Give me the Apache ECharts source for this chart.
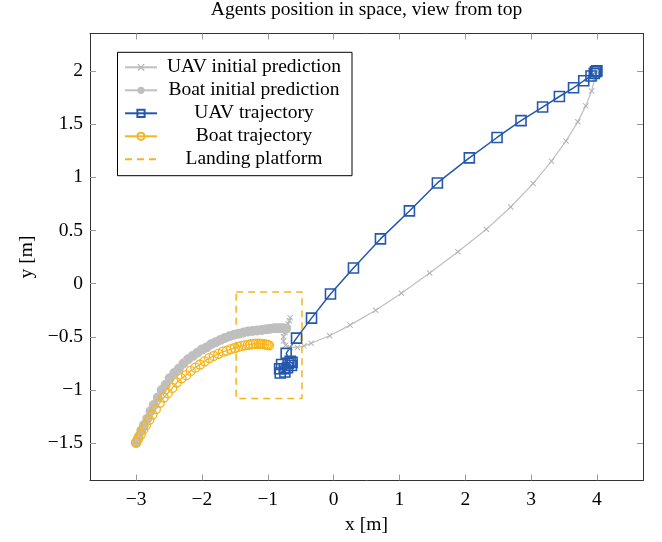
<!DOCTYPE html>
<html>
<head>
<meta charset="utf-8">
<script src="https://cdn.jsdelivr.net/npm/echarts@6/dist/echarts.min.js"></script>
<style>
html,body{margin:0;padding:0;background:#fff;}
#chart{width:662px;height:542px;}
</style>
</head>
<body>
<div id="chart"></div>
<script>
// ---- data ----
const uavPredX = [-0.66,-0.67,-0.69,-0.71,-0.74,-0.76,-0.76,-0.73,-0.66,-0.55,-0.45,-0.34,-0.06,0.25,0.64,1.03,1.46,1.89,2.32,2.69,3.03,3.31,3.53,3.71,3.83,3.92,3.97,3.99,4.00];
const uavPredY = [-0.32,-0.35,-0.38,-0.42,-0.46,-0.50,-0.54,-0.58,-0.60,-0.60,-0.585,-0.56,-0.49,-0.39,-0.25,-0.09,0.10,0.30,0.51,0.72,0.94,1.15,1.34,1.52,1.67,1.81,1.93,1.99,2.00];

const boatPredX = [-3.00,-2.96,-2.92,-2.88,-2.83,-2.78,-2.73,-2.67,-2.61,-2.55,-2.49,-2.42,-2.35,-2.28,-2.21,-2.14,-2.07,-2.00,-1.93,-1.86,-1.79,-1.72,-1.65,-1.58,-1.51,-1.44,-1.37,-1.30,-1.23,-1.16,-1.09,-1.02,-0.96,-0.90,-0.85,-0.80,-0.76,-0.72];
const boatPredY = [-1.50,-1.44,-1.38,-1.33,-1.27,-1.20,-1.14,-1.07,-1.00,-0.95,-0.89,-0.84,-0.80,-0.75,-0.71,-0.68,-0.65,-0.62,-0.60,-0.57,-0.55,-0.53,-0.51,-0.495,-0.48,-0.47,-0.46,-0.45,-0.445,-0.44,-0.435,-0.43,-0.425,-0.42,-0.42,-0.42,-0.42,-0.425];

const uavTrajX = [4.00,3.99,3.98,3.96,3.91,3.80,3.645,3.43,3.175,2.847,2.483,2.062,1.577,1.152,0.712,0.302,-0.047,-0.335,-0.563,-0.72,-0.66,-0.63,-0.69,-0.64,-0.79,-0.82,-0.75,-0.70,-0.81,-0.74];
const uavTrajY = [2.00,1.995,1.99,1.975,1.95,1.906,1.84,1.758,1.659,1.531,1.373,1.181,0.946,0.683,0.42,0.147,-0.098,-0.324,-0.512,-0.656,-0.73,-0.74,-0.75,-0.77,-0.76,-0.80,-0.80,-0.79,-0.84,-0.83];

const boatTrajX = [-3.00,-2.97,-2.93,-2.89,-2.85,-2.80,-2.75,-2.70,-2.64,-2.58,-2.52,-2.45,-2.38,-2.31,-2.24,-2.17,-2.10,-2.03,-1.96,-1.89,-1.82,-1.75,-1.68,-1.62,-1.56,-1.50,-1.45,-1.40,-1.35,-1.30,-1.26,-1.22,-1.18,-1.14,-1.11,-1.08,-1.05,-1.02,-1.00,-0.98];
const boatTrajY = [-1.49,-1.46,-1.42,-1.37,-1.33,-1.28,-1.23,-1.18,-1.12,-1.07,-1.03,-0.98,-0.93,-0.89,-0.86,-0.82,-0.79,-0.76,-0.73,-0.70,-0.68,-0.66,-0.64,-0.63,-0.615,-0.605,-0.595,-0.585,-0.58,-0.575,-0.57,-0.567,-0.565,-0.565,-0.566,-0.567,-0.57,-0.573,-0.576,-0.58];

const platformX = [-1.48,-0.48,-0.48,-1.48,-1.48];
const platformY = [-0.08,-0.08,-1.08,-1.08,-0.08];

const xTicks = [-3,-2,-1,0,1,2,3,4];
const yTicks = [-1.5,-1,-0.5,0,0.5,1,1.5,2];
const seriesNames = ['UAV initial prediction','Boat initial prediction','UAV trajectory','Boat trajectory','Landing platform'];

// ---- build ----
const zip = (xs, ys) => xs.map((x, i) => [x, ys[i]]);
const FONT = 'Liberation Serif';
const FS = 19.5;
const GREY = '#bfbfbf', BLUE = '#2458ab', ORANGE = '#f6b41f';
const fmt = v => String(v).replace('-', '\u2212');
const CROSS = 'path://M0,1.2L1.2,0L5,3.8L8.8,0L10,1.2L6.2,5L10,8.8L8.8,10L5,6.2L1.2,10L0,8.8L3.8,5Z';

function mkX(pos, labels) {
  return {
    type: 'value', position: pos, min: -3.7, max: 4.7,
    axisLine: {show: true, onZero: false, lineStyle: {color: '#333', width: 1}},
    axisTick: {show: true, inside: true, length: 6, customValues: xTicks, lineStyle: {color: '#9a9a9a', width: 1}},
    axisLabel: {show: labels, customValues: xTicks, formatter: fmt, margin: 9, color: '#000', fontFamily: FONT, fontSize: FS},
    splitLine: {show: false},
    name: labels ? 'x [m]' : '', nameLocation: 'middle', nameGap: 34,
    nameTextStyle: {color: '#000', fontFamily: FONT, fontSize: FS}
  };
}
function mkY(pos, labels) {
  return {
    type: 'value', position: pos, min: -1.85, max: 2.35,
    axisLine: {show: true, onZero: false, lineStyle: {color: '#333', width: 1}},
    axisTick: {show: true, inside: true, length: 6, customValues: yTicks, lineStyle: {color: '#9a9a9a', width: 1}},
    axisLabel: {show: labels, customValues: yTicks, formatter: fmt, margin: 7, color: '#000', fontFamily: FONT, fontSize: FS},
    splitLine: {show: false},
    name: labels ? 'y [m]' : '', nameLocation: 'middle', nameGap: 47,
    nameTextStyle: {color: '#000', fontFamily: FONT, fontSize: FS}
  };
}

const option = {
  animation: false,
  backgroundColor: '#fff',
  title: {
    text: 'Agents position in space, view from top',
    left: 366.5, top: 0, textAlign: 'center', padding: 0,
    textStyle: {color: '#000', fontFamily: FONT, fontSize: FS, fontWeight: 'normal'}
  },
  grid: {left: 90, right: 19, top: 33.5, bottom: 61.5, containLabel: false},
  xAxis: [mkX('bottom', true), mkX('top', false)],
  yAxis: [mkY('left', true), mkY('right', false)],
  legend: {
    orient: 'vertical', left: 117.5, top: 52.3,
    padding: [5, 6, 6.4, 6.5], itemGap: 3, itemWidth: 32, itemHeight: 9, itemTextGap: 5,
    backgroundColor: '#fff', borderColor: '#000', borderWidth: 1, borderRadius: 0,
    data: [
      seriesNames[0], seriesNames[1], seriesNames[2], seriesNames[3],
      {name: seriesNames[4], itemStyle: {color: 'rgba(0,0,0,0)', borderWidth: 0, opacity: 0}}
    ],
    formatter: n => '{c|' + n + '}',
    textStyle: {color: '#000', fontFamily: FONT, fontSize: FS, lineHeight: 20,
      rich: {c: {width: 184, align: 'center', fontFamily: FONT, fontSize: FS, lineHeight: 20, color: '#000'}}}
  },
  series: [
    {name: seriesNames[0], type: 'line', data: zip(uavPredX, uavPredY),
     symbol: CROSS, symbolSize: 6, lineStyle: {color: GREY, width: 1.2}, itemStyle: {color: '#b5b5b5'}},
    {name: seriesNames[1], type: 'line', data: zip(boatPredX, boatPredY),
     symbol: 'circle', symbolSize: 10, lineStyle: {color: GREY, width: 1.2}, itemStyle: {color: GREY}},
    {name: seriesNames[2], type: 'line', data: zip(uavTrajX, uavTrajY),
     symbol: 'rect', symbolSize: 10, lineStyle: {color: BLUE, width: 1.5},
     itemStyle: {color: 'rgba(255,255,255,0)', borderColor: BLUE, borderWidth: 1.6}},
    {name: seriesNames[3], type: 'line', data: zip(boatTrajX, boatTrajY),
     symbol: 'circle', symbolSize: 9, lineStyle: {color: ORANGE, width: 1.3},
     itemStyle: {color: 'rgba(255,255,255,0)', borderColor: ORANGE, borderWidth: 1.3}},
    {name: seriesNames[4], type: 'line', data: zip(platformX, platformY),
     symbol: 'none', showSymbol: false, itemStyle: {color: ORANGE},
     lineStyle: {color: ORANGE, width: 1.5, type: [7, 5]}}
  ]
};

const chart = echarts.init(document.getElementById('chart'), null, {renderer: 'canvas'});
chart.setOption(option);
</script>
</body>
</html>
